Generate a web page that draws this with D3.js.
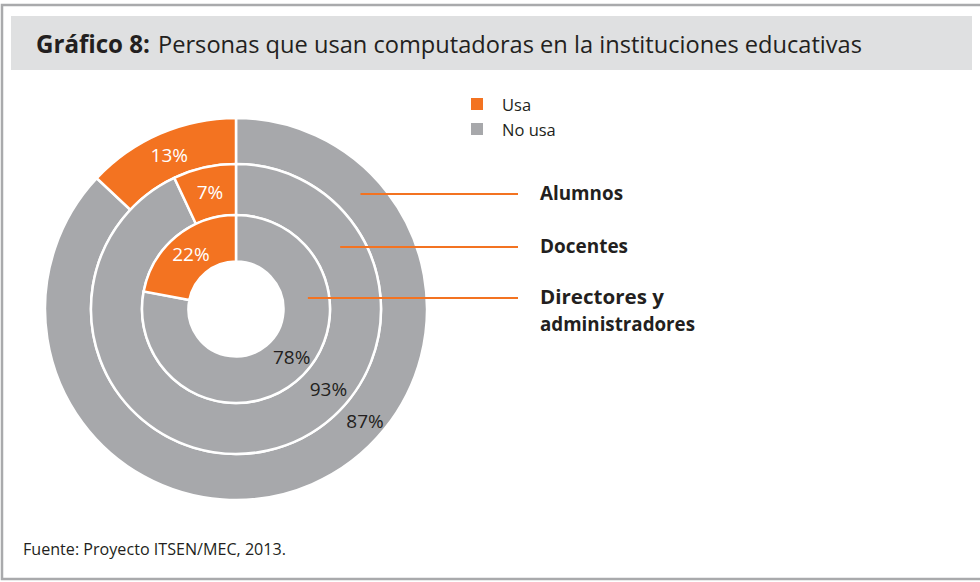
<!DOCTYPE html>
<html>
<head>
<meta charset="utf-8">
<script src="https://cdn.jsdelivr.net/npm/d3@7"></script>
<style>
  html, body { margin: 0; padding: 0; background: #ffffff; }
  svg { display: block; font-family: "Open Sans", "Noto Sans", sans-serif; }
</style>
</head>
<body>
<svg id="chart" width="980" height="582"></svg>
<script>
// Rings, from outermost to innermost
const groups = ["Alumnos", "Docentes", "Directores y administradores"];
// Share of each group that uses computers / does not (%)
const usa = [13, 7, 22];
const noUsa = [87, 93, 78];
// Legend entries
const categories = ["Usa", "No usa"];

const colors = { "Usa": "#f37321", "No usa": "#a7a8ab" };
const W = 980, H = 582;
const cx = 236, cy = 309;
// ring boundaries (outer to inner)
const radii = [191, 145, 94, 47.5];

const svg = d3.select("#chart");

// frame
svg.append("rect")
  .attr("x", 2).attr("y", 5).attr("width", W + 10).attr("height", 574)
  .attr("fill", "none").attr("stroke", "#a9aaac").attr("stroke-width", 2.5);

// title bar
svg.append("rect")
  .attr("x", 11).attr("y", 16).attr("width", 961).attr("height", 54)
  .attr("fill", "#dfe0e1");
svg.append("text")
  .attr("x", 36).attr("y", 53)
  .attr("font-size", 24.5).attr("font-weight", 700).attr("fill", "#231f20")
  .attr("textLength", 114).attr("lengthAdjust", "spacingAndGlyphs")
  .text("Gráfico 8:");
svg.append("text")
  .attr("x", 158).attr("y", 53)
  .attr("font-size", 24.5).attr("fill", "#231f20")
  .attr("textLength", 704).attr("lengthAdjust", "spacingAndGlyphs")
  .text("Personas que usan computadoras en la instituciones educativas");

// rings: "No usa" runs clockwise from 12 o'clock, "Usa" closes the circle
const pie = d3.pie().sort(null).value(d => d.value);
const g = svg.append("g").attr("transform", `translate(${cx},${cy})`);
const grayAngle = 131 * Math.PI / 180;

groups.forEach((name, i) => {
  const rOuter = radii[i], rInner = radii[i + 1];
  const arc = d3.arc().innerRadius(rInner).outerRadius(rOuter);
  const slices = pie([
    { key: "No usa", value: noUsa[i] },
    { key: "Usa", value: usa[i] }
  ]);
  g.selectAll(null).data(slices).enter().append("path")
    .attr("d", arc)
    .attr("fill", d => colors[d.data.key])
    .attr("stroke", "#ffffff").attr("stroke-width", 2.5)
    .attr("stroke-linejoin", "miter");

  const rMid = (rOuter + rInner) / 2;
  slices.forEach(s => {
    let x, y;
    if (s.data.key === "Usa") {
      [x, y] = arc.centroid(s);
    } else {
      x = Math.sin(grayAngle) * (rMid + 3);
      y = -Math.cos(grayAngle) * (rMid + 3);
    }
    g.append("text")
      .attr("x", x).attr("y", y)
      .attr("text-anchor", "middle").attr("dy", "0.36em")
      .attr("font-size", 19)
      .attr("fill", s.data.key === "Usa" ? "#ffffff" : "#231f20")
      .text(s.data.value + "%");
  });
});

// leader lines and group labels
const leaderDy = [-115, -62, -11];
const labelWidths = { "Alumnos": 83, "Docentes": 88, "Directores y": 124, "administradores": 155 };
const lineEndX = 518, labelX = 540;
groups.forEach((name, i) => {
  const rMid = (radii[i] + radii[i + 1]) / 2;
  const dy = leaderDy[i];
  const x0 = cx + Math.sqrt(rMid * rMid - dy * dy) + 2;
  const y = cy + dy;
  svg.append("line")
    .attr("x1", x0).attr("x2", lineEndX).attr("y1", y).attr("y2", y)
    .attr("stroke", "#f37321").attr("stroke-width", 2.2);
  const lines = name === "Directores y administradores"
    ? ["Directores y", "administradores"] : [name];
  lines.forEach((ln, k) => {
    svg.append("text")
      .attr("x", labelX).attr("y", y + 6 + k * 27)
      .attr("font-size", 20).attr("font-weight", 700).attr("fill", "#231f20")
      .attr("textLength", labelWidths[ln]).attr("lengthAdjust", "spacingAndGlyphs")
      .text(ln);
  });
});

// legend
const legend = svg.append("g").attr("transform", "translate(471,98)");
categories.forEach((c, i) => {
  legend.append("rect")
    .attr("x", 0).attr("y", i * 25).attr("width", 12).attr("height", 12)
    .attr("fill", colors[c]);
  legend.append("text")
    .attr("x", 31).attr("y", i * 25 + 13)
    .attr("font-size", 16.5).attr("fill", "#231f20")
    .text(c);
});

// source note
svg.append("text")
  .attr("x", 23).attr("y", 555)
  .attr("font-size", 17).attr("fill", "#231f20")
  .attr("textLength", 263).attr("lengthAdjust", "spacingAndGlyphs")
  .text("Fuente: Proyecto ITSEN/MEC, 2013.");
</script>
</body>
</html>
